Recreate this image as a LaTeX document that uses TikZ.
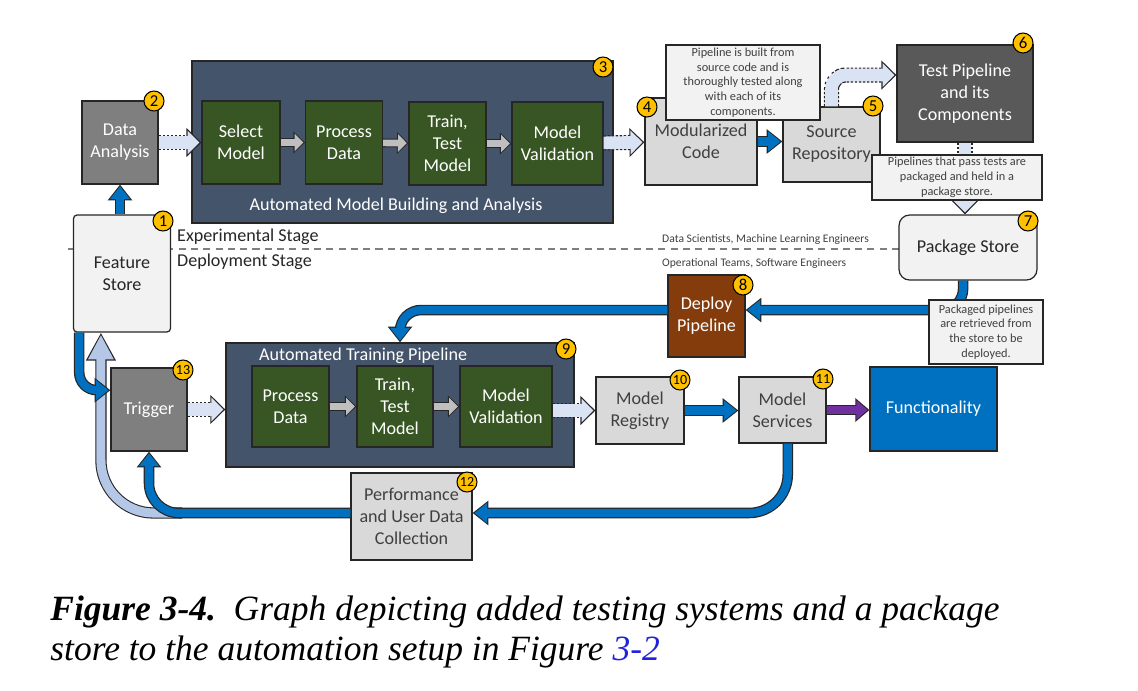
\documentclass[tikz,border=0pt]{standalone}
\usepackage{fontspec}
\setmainfont{Carlito}
\newfontfamily\capfont{Liberation Serif}
\usetikzlibrary{arrows.meta}

\definecolor{panelblue}{HTML}{44546A}
\definecolor{modelgreen}{HTML}{375623}
\definecolor{midgray}{HTML}{7F7F7F}
\definecolor{deepgray}{HTML}{595959}
\definecolor{boxgray}{HTML}{D9D9D9}
\definecolor{palegray}{HTML}{F2F2F2}
\definecolor{deploybrown}{HTML}{843C0C}
\definecolor{funcblue}{HTML}{0070C0}
\definecolor{flowblue}{HTML}{0070C0}
\definecolor{lightfill}{HTML}{DAE3F3}
\definecolor{palefill}{HTML}{B4C7E7}
\definecolor{arrowgray}{HTML}{BFBFBF}
\definecolor{servpurple}{HTML}{7030A0}
\definecolor{badgegold}{HTML}{FFC000}
\definecolor{textgray}{HTML}{404040}
\definecolor{edge}{HTML}{262626}
\definecolor{linkblue}{HTML}{2222DD}

\newcommand{\boxfont}{\fontsize{10.3}{12.5}\selectfont}
\newcommand{\notefont}{\fontsize{7}{8.4}\selectfont}

\tikzset{
  box/.style={draw=edge, line width=0.7pt, align=center, inner sep=1pt, font=\boxfont},
  darkbox/.style={box, fill=midgray, text=white},
  greenbox/.style={box, fill=modelgreen, text=white},
  lightbox/.style={box, fill=boxgray, text=textgray},
  palebox/.style={box, fill=palegray, text=edge},
  panel/.style={draw=edge, line width=0.8pt, fill=panelblue, inner sep=0pt},
  note/.style={draw=edge, line width=0.8pt, fill=palegray, text=textgray, align=center, inner sep=1pt, font=\notefont},
  badge/.style={circle, draw=black, line width=0.6pt, fill=badgegold, inner sep=0pt, minimum size=0.4cm, font=\fontsize{9.5}{10}\selectfont},
  badgetwo/.style={badge, font=\fontsize{8}{8}\selectfont},
  stageline/.style={draw=midgray, line width=0.6pt, dash pattern=on 4pt off 3pt},
  blueflow/.style={draw=edge, line width=6pt, -{Triangle[length=9pt,width=13.5pt]},
    postaction={draw=flowblue, line width=4.6pt, shorten >=1pt, -{Triangle[length=7.2pt,width=11pt]}}},
  purpleflow/.style={draw=edge, line width=6pt, -{Triangle[length=8pt,width=13pt]},
    postaction={draw=servpurple, line width=4.6pt, shorten >=1pt, -{Triangle[length=6.4pt,width=10.6pt]}}},
  grayflow/.style={draw=edge, line width=5pt, -{Triangle[length=6.5pt,width=12pt]},
    postaction={draw=arrowgray, line width=3.8pt, shorten >=0.9pt, -{Triangle[length=5pt,width=9.8pt]}}},
  lightdash/.style={draw=edge, dash pattern=on 1.4pt off 0.9pt, line width=8.6pt, -{Triangle[length=8.5pt,width=16pt]},
    postaction={draw=lightfill, solid, line width=7.2pt, shorten >=1.1pt, -{Triangle[length=6.8pt,width=13.2pt]}}},
  paleflow/.style={draw=edge, line width=6.4pt, -{Triangle[length=16pt,width=16pt]},
    postaction={draw=palefill, line width=5.2pt, shorten >=1.2pt, -{Triangle[length=14pt,width=13.6pt]}}},
}

\begin{document}
\begin{tikzpicture}[x=0.02cm, y=-0.02cm]
  \useasboundingbox (0,0) rectangle (1138,690);

  % stage divider
  \coordinate (sepL) at (68,249);
  \coordinate (sepR) at (899,249);
  \draw[stageline] (sepL) -- (sepR);
  \node[font=\boxfont, text=edge, anchor=west] (expl) at (171,237) {Experimental Stage};
  \node[font=\boxfont, text=edge, anchor=west] (depl) at (171,262) {Deployment Stage};
  \node[font=\fontsize{6.6}{8}\selectfont, text=textgray, anchor=west] (sci) at (656,239) {Data Scientists, Machine Learning Engineers};
  \node[font=\fontsize{6.6}{8}\selectfont, text=textgray, anchor=west] (ops) at (656,263) {Operational Teams, Software Engineers};

  % panels
  \node[panel, minimum width=8.42cm, minimum height=3.24cm] (amb) at (402.5,142) {};
  \node[font=\boxfont, text=white] (amblabel) at (396,206) {Automated Model Building and Analysis};
  \node[panel, minimum width=6.96cm, minimum height=2.48cm] (atp) at (400,405) {};
  \node[font=\boxfont, text=white, anchor=west] (atplabel) at (253,356) {Automated Training Pipeline};

  % experimental stage boxes
  \node[palebox, rounded corners=2pt, minimum width=1.94cm, minimum height=2.34cm] (fs) at (122,273.5) {Feature\\Store};
  \node[darkbox, minimum width=1.52cm, minimum height=1.66cm] (da) at (120,142.5) {Data\\Analysis};
  \node[greenbox, minimum width=1.56cm, minimum height=1.66cm] (sel) at (241,142.5) {Select\\Model};
  \node[greenbox, minimum width=1.54cm, minimum height=1.66cm] (proc) at (344,142.5) {Process\\Data};
  \node[greenbox, minimum width=1.54cm, minimum height=1.66cm] (tt) at (447.5,143.5) {Train,\\Test\\Model};
  \node[greenbox, minimum width=1.82cm, minimum height=1.66cm] (mv) at (557.5,143.5) {Model\\Validation};
  \node[lightbox, minimum width=2.24cm, minimum height=1.74cm] (mod) at (701,141.5) {Modularized\\Code};
  \node[lightbox, minimum width=1.94cm, minimum height=1.5cm] (src) at (831.5,144.5) {Source\\Repository};
  \node[box, fill=deepgray, text=white, minimum width=2.72cm, minimum height=1.94cm] (test) at (965,93.5) {Test Pipeline\\and its\\Components};
  \node[palebox, rounded corners=6pt, minimum width=2.76cm, minimum height=1.3cm] (ps) at (968,247.5) {Package Store};

  % deployment stage boxes
  \node[box, fill=deploybrown, text=white, minimum width=1.54cm, minimum height=1.64cm] (dep) at (706.5,316) {Deploy\\Pipeline};
  \node[darkbox, minimum width=1.52cm, minimum height=1.66cm] (trig) at (149,409.5) {Trigger};
  \node[greenbox, minimum width=1.54cm, minimum height=1.62cm] (pd2) at (290.5,406.5) {Process\\Data};
  \node[greenbox, minimum width=1.52cm, minimum height=1.62cm] (tt2) at (395,406.5) {Train,\\Test\\Model};
  \node[greenbox, minimum width=1.84cm, minimum height=1.62cm] (mv2) at (506,406.5) {Model\\Validation};
  \node[lightbox, minimum width=1.76cm, minimum height=1.34cm] (reg) at (640,410.5) {Model\\Registry};
  \node[lightbox, minimum width=1.74cm, minimum height=1.32cm] (srv) at (782.5,410) {Model\\Services};
  \node[box, fill=funcblue, text=white, minimum width=2.54cm, minimum height=1.68cm] (func) at (933.5,409) {Functionality};
  \node[lightbox, minimum width=2.42cm, minimum height=1.74cm] (perf) at (411.5,516.5) {Performance\\and User Data\\Collection};

  % connectors, experimental stage
  \draw[blueflow] (da.south |- fs.north) -- (da.south);
  \draw[lightdash] (da) -- (sel);
  \draw[grayflow] (sel) -- (proc);
  \draw[grayflow] (proc) -- (tt);
  \draw[grayflow] (tt) -- (mv);
  \draw[lightdash] (mv) -- (mod);
  \draw[blueflow] (mod.east) -- (mod.east -| src.west);
  \draw[lightdash, rounded corners=8pt] (src.north) |- ([yshift=10.5pt]test.west);
  \draw[lightdash] (test.south) -- (test.south |- ps.north);

  % connectors, deployment stage
  \draw[blueflow, rounded corners=12pt] ([xshift=-2.8pt]ps.south) |- ([yshift=3.4pt]dep.east);
  \draw[blueflow, rounded corners=12pt] ([yshift=3.4pt]dep.west) -| (atp.north);
  \draw[lightdash] (trig.east) -- (trig.east -| atp.west);
  \draw[grayflow] (pd2) -- (tt2);
  \draw[grayflow] (tt2) -- (mv2);
  \draw[lightdash] (mv2.east |- reg.west) -- (reg.west);
  \draw[blueflow] (reg.east) -- (reg.east -| srv.west);
  \draw[purpleflow] (srv.east) -- (srv.east -| func.west);

  % feedback loop
  \coordinate (fork) at (182,513);
  \draw[paleflow, rounded corners=30pt] (fork) -| ([xshift=-12pt]fs.south);
  \draw[blueflow, rounded corners=22pt] ([xshift=3pt]srv.south) |- ([yshift=2pt]perf.east);
  \draw[blueflow, rounded corners=17pt] ([yshift=2pt]perf.west) -| (trig.south);
  \draw[blueflow, rounded corners=10pt] ([xshift=3.6pt]fs.south west) |- ([yshift=11pt]trig.west);

  % callouts
  \node[note, minimum width=3.08cm, minimum height=1.5cm] (c1) at (743,82.5) {Pipeline is built from\\source code and is\\thoroughly tested along\\with each of its\\components.};
  \node[note, minimum width=3.4cm, minimum height=0.9cm] (c2) at (957,177.5) {Pipelines that pass tests are\\packaged and held in a\\package store.};
  \node[note, minimum width=2.28cm, minimum height=1.28cm] (c3) at (986,332) {Packaged pipelines\\are retrieved from\\the store to be\\deployed.};

  % numbered badges
  \node[badge] (b1) at (163,221) {1};
  \node[badge] (b2) at (154,101) {2};
  \node[badge] (b3) at (603,67) {3};
  \node[badge] (b4) at (647,107) {4};
  \node[badge] (b5) at (873,106) {5};
  \node[badge] (b6) at (1023,43) {6};
  \node[badge] (b7) at (1028,221) {7};
  \node[badge] (b8) at (743,285) {8};
  \node[badge] (b9) at (566,349) {9};
  \node[badgetwo] (b10) at (680,380) {10};
  \node[badgetwo] (b11) at (823,379) {11};
  \node[badgetwo] (b12) at (467,482) {12};
  \node[badgetwo] (b13) at (183,370) {13};

  % caption
  \node[anchor=base west, inner sep=0pt, font=\capfont\fontsize{20.2}{24}\selectfont] (cap1) at (50,620)
    {\textbf{\textit{Figure 3-4.}}\ \ \textit{Graph depicting added testing systems and a package}};
  \node[anchor=base west, inner sep=0pt, font=\capfont\fontsize{20.2}{24}\selectfont] (cap2) at (50,660)
    {\textit{store to the automation setup in Figure \textcolor{linkblue}{3-2}}};
\end{tikzpicture}
\end{document}
